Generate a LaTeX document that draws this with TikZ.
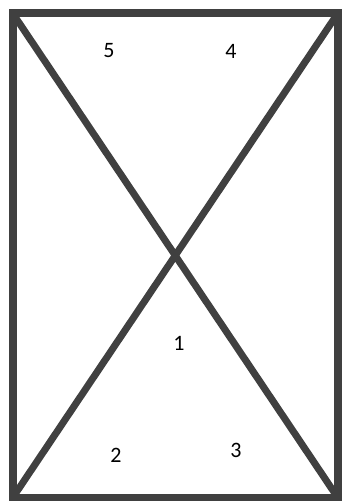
\documentclass[tikz,border=0pt]{standalone}
\usepackage{fontspec}
\setmainfont{Carlito}
\usepackage{tikz}
\definecolor{frameGray}{RGB}{64,64,64}

\begin{document}
\begin{tikzpicture}[
  x=1pt,y=-1pt,
  edge/.style={draw=frameGray,line width=8pt,line cap=round},
  num/.style={font=\fontsize{22}{26}\selectfont,inner sep=0pt}
]
\useasboundingbox (0,0) rectangle (342,501);
\coordinate (tl) at (12.5,13);
\coordinate (tr) at (338,13);
\coordinate (br) at (338,498);
\coordinate (bl) at (12.5,498);
\draw[edge,line cap=butt,line join=miter] (tl) -- (tr) -- (br) -- (bl) -- cycle;
\draw[edge,line width=7pt] (tl) -- (br);
\draw[edge,line width=7pt] (tr) -- (bl);
\node[num] (n5) at (109,51) {5};
\node[num] (n4) at (231,51) {4};
\node[num] (n1) at (179,343) {1};
\node[num] (n2) at (116,455) {2};
\node[num] (n3) at (236,450) {3};
\end{tikzpicture}
\end{document}
